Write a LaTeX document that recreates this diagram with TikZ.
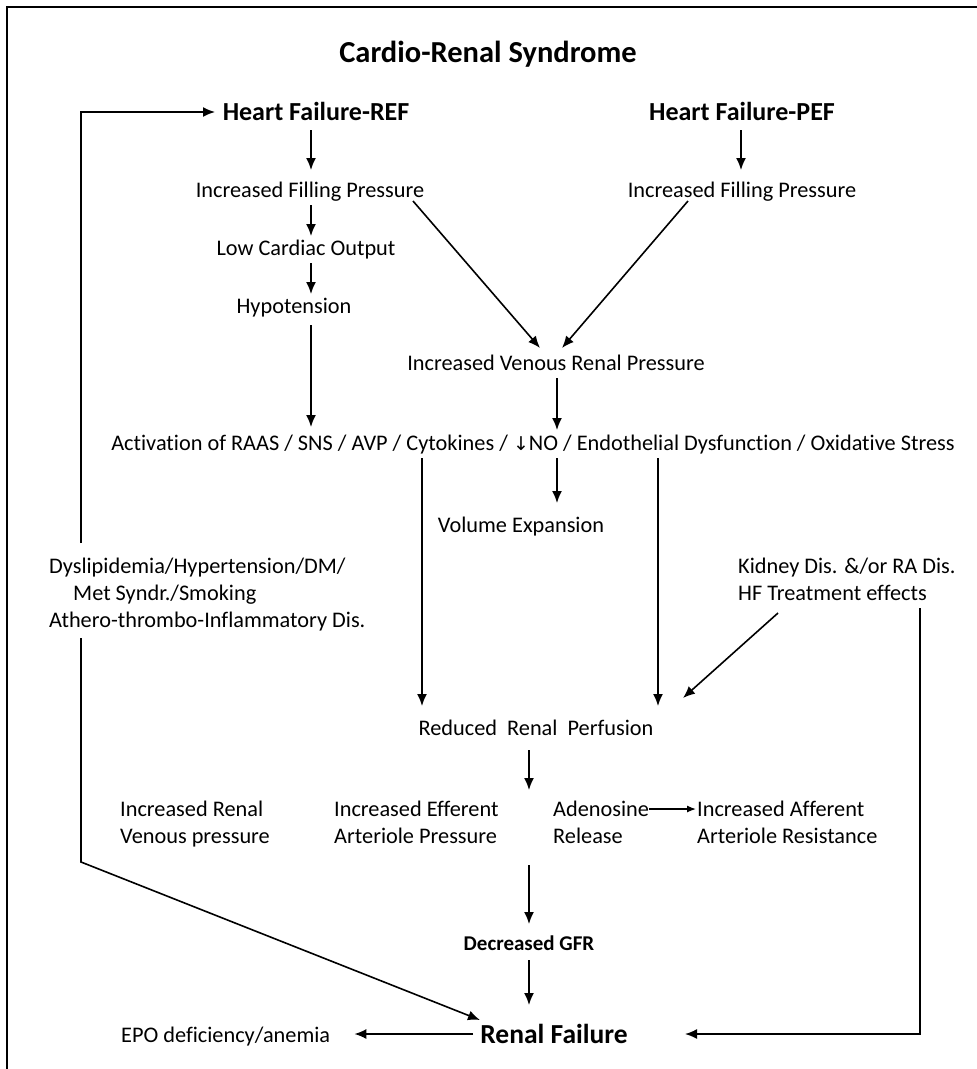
\documentclass[tikz,border=0pt]{standalone}
\usepackage{fontspec}
\setmainfont{Carlito}[Ligatures=NoCommon]
\newfontfamily\djv{DejaVu Sans}
\usetikzlibrary{arrows.meta,calc}
\begin{document}
\begin{tikzpicture}[x=1pt,y=-1pt,
  txt/.style={inner sep=0pt, anchor=base, font=\fontsize{22.3}{27}\selectfont},
  txtw/.style={txt, anchor=base west},
  hb/.style={txt, font=\bfseries\fontsize{26}{30}\selectfont},
  arr/.style={line width=1.6pt, -{Latex[length=12pt,width=10pt]}},
  sarr/.style={line width=1.3pt, -{Latex[length=9pt,width=7pt]}},
  ln/.style={line width=1.6pt}]
\useasboundingbox (0,0) rectangle (977,1069);
\draw[line width=2pt] (7,1069) -- (7,7) -- (977,7);
% nodes
\node[txt, font=\bfseries\fontsize{30.5}{34}\selectfont] (title) at (488,62) {Cardio-Renal Syndrome};
\node[hb] (ref) at (316,120) {Heart Failure-REF};
\node[hb] (pef) at (742,120) {Heart Failure-PEF};
\node[txt] (ifpL) at (310,197) {Increased Filling Pressure};
\node[txt] (ifpR) at (742,197) {Increased Filling Pressure};
\node[txt] (lco) at (306,255) {Low Cardiac Output};
\node[txt] (hyp) at (294,313) {Hypotension};
\node[txt] (ivrp) at (556,370) {Increased Venous Renal Pressure};
\node[txt] (act) at (533,450) {Activation of RAAS / SNS / AVP / Cytokines / {\djv\fontsize{19}{24}\selectfont ↓}NO / Endothelial Dysfunction / Oxidative Stress};
\node[txt] (vol) at (521,532) {Volume Expansion};
\node[txtw] (dys1) at (49,573) {Dyslipidemia/Hypertension/DM/};
\node[txtw] (dys2) at (73,600) {Met Syndr./Smoking};
\node[txtw] (dys3) at (49,627) {Athero-thrombo-Inflammatory Dis.};
\node[txtw] (kid1) at (738,573) {Kidney Dis. \&/or RA Dis.};
\node[txtw] (kid2) at (738,600) {HF Treatment effects};
\node[txt] (rrp) at (536,735) {Reduced\ \ Renal\ \ Perfusion};
\node[txtw] (irv1) at (120,816) {Increased Renal};
\node[txtw] (irv2) at (120,843) {Venous pressure};
\node[txtw] (iea1) at (334,816) {Increased Efferent};
\node[txtw] (iea2) at (334,843) {Arteriole Pressure};
\node[txtw] (ade1) at (553,816) {Adenosine};
\node[txtw] (ade2) at (553,843) {Release};
\node[txtw] (iaa1) at (697,816) {Increased Afferent};
\node[txtw] (iaa2) at (697,843) {Arteriole Resistance};
\node[txt, font=\bfseries\fontsize{21}{25}\selectfont] (gfr) at (529,950) {Decreased GFR};
\node[txt, font=\bfseries\fontsize{27.5}{32}\selectfont] (rf) at (554,1043) {Renal Failure};
\node[txtw] (epo) at (121,1042) {EPO deficiency/anemia};
% connectors
\draw[arr] ($(ref.base)+(-5,10)$) -- ($(ifpL.base)+(1,-27)$);
\draw[arr] ($(pef.base)+(-1,10)$) -- ($(ifpR.base)+(-1,-27)$);
\draw[arr] ($(ifpL.base)+(1,8)$) -- ($(lco.base)+(5,-19)$);
\draw[arr] ($(lco.base)+(5,8)$) -- ($(hyp.base)+(17,-19)$);
\draw[arr] ($(hyp.base)+(17,12)$) -- ($(act.base)+(-222,-23)$);
\draw[arr] ($(ifpL.base)+(103,4)$) -- ($(ivrp.base)+(-16,-22)$);
\draw[arr] ($(ifpR.base)+(-54,4)$) -- ($(ivrp.base)+(6,-22)$);
\draw[arr] ($(ivrp.base)+(1,8)$) -- ($(act.base)+(24,-20)$);
\draw[arr] ($(act.base)+(-111,8)$) -- ($(rrp.base)+(-114,-29)$);
\draw[arr] ($(act.base)+(24,8)$) -- ($(vol.base)+(36,-29)$);
\draw[arr] ($(act.base)+(125,8)$) -- ($(rrp.base)+(122,-29)$);
\draw[arr] ($(kid2.base west)+(40,13)$) -- ($(rrp.base)+(147,-37)$);
\draw[arr] ($(kid2.base west)+(182,8)$) |- ($(rf.base)+(131,-9)$);
\draw[arr] ($(rrp.base)+(-7,15)$) -- ($(rrp.base)+(-7,55)$);
\draw[sarr] ($(ade1.base east)+(0,-7)$) -- ($(iaa1.base west)+(-1,-7)$);
\draw[arr] ($(gfr.base)+(0,-85)$) -- ($(gfr.base)+(0,-26)$);
\draw[arr] ($(gfr.base)+(0,10)$) -- ($(rf.base)+(-25,-38)$);
\draw[arr] ($(rf.base west)+(-7,-9)$) -- ($(epo.base east)+(24,-8)$);
\draw[arr] ($(dys1.base west)+(32,-30)$) |- ($(ref.base)+(-101,-8)$);
\draw[arr] ($(dys3.base west)+(32,11)$) -- ($(dys3.base west)+(32,235)$) -- ($(rf.base)+(-74,-23)$);
\end{tikzpicture}
\end{document}
